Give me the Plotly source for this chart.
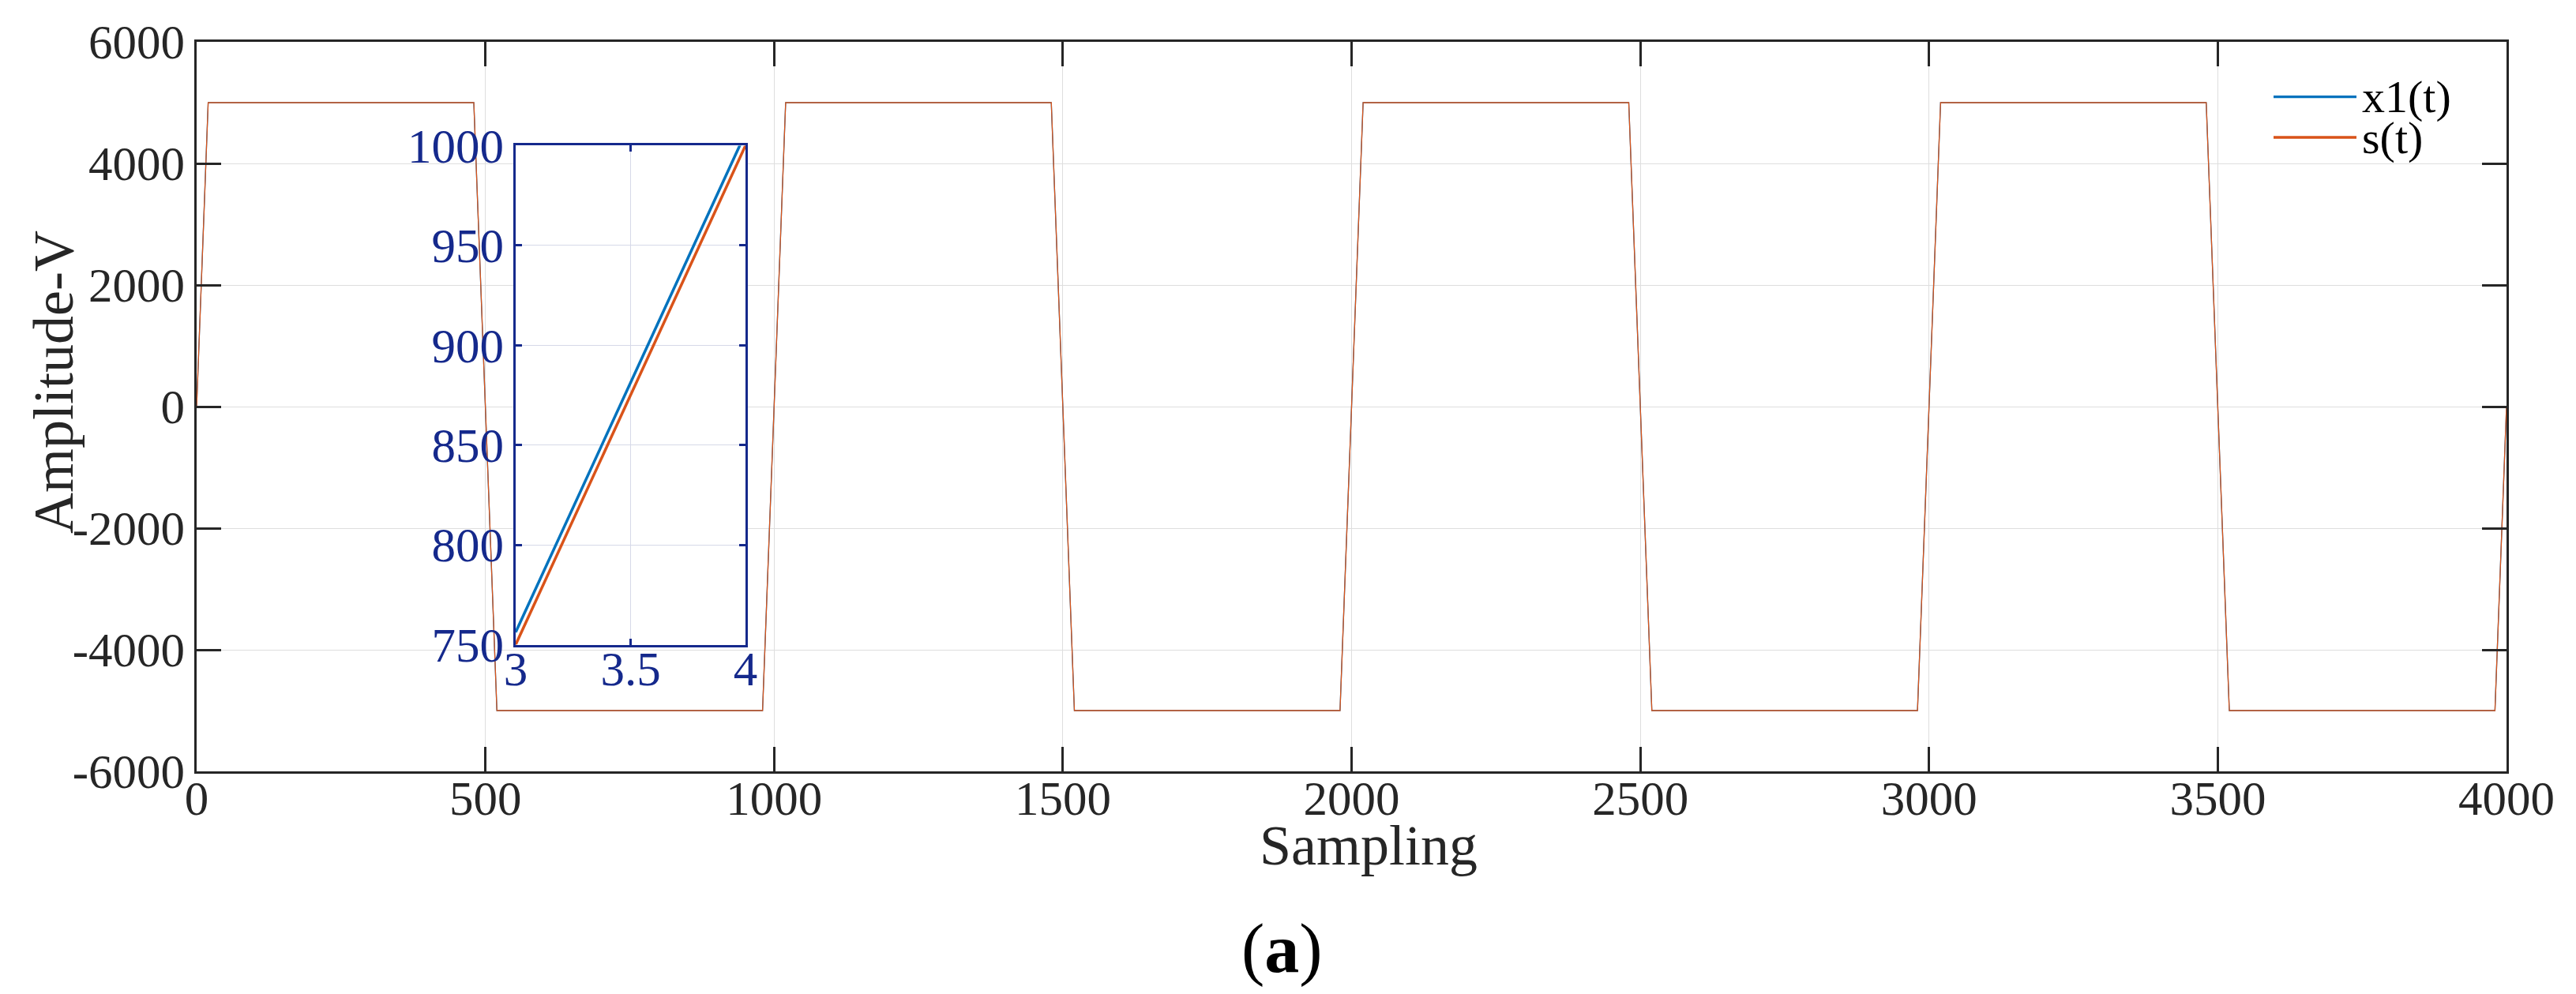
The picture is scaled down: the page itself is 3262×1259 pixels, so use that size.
import plotly.graph_objects as go

# ---------------- data ----------------
# corner points of the sampled trapezoidal signals (main view)
s_t = [0, 20, 480, 520, 980, 1020, 1480, 1520, 1980, 2020, 2480, 2520,
       2980, 3020, 3480, 3520, 3980, 4000]
s_v = [0, 5000, 5000, -5000, -5000, 5000, 5000, -5000, -5000, 5000, 5000,
       -5000, -5000, 5000, 5000, -5000, -5000, 0]
x1_t = [0, 19.975, 479.975, 519.975, 979.975, 1019.975, 1479.975, 1519.975,
        1979.975, 2019.975, 2479.975, 2519.975, 2979.975, 3019.975,
        3479.975, 3519.975, 3979.975, 4000]
x1_v = [6.25, 5000, 5000, -5000, -5000, 5000, 5000, -5000, -5000, 5000, 5000,
        -5000, -5000, 5000, 5000, -5000, -5000, 6.25]

# zoomed inset (samples 3..4)
inset_t = [3, 4]
inset_x1 = [756.25, 1006.25]
inset_s = [750, 1000]

x_ticks = [0, 500, 1000, 1500, 2000, 2500, 3000, 3500, 4000]
x_labels = ["0", "500", "1000", "1500", "2000", "2500", "3000", "3500", "4000"]
y_ticks = [-6000, -4000, -2000, 0, 2000, 4000, 6000]
y_labels = ["-6000", "-4000", "-2000", "0", "2000", "4000", "6000"]
inset_xticks = [3, 3.5, 4]
inset_xlabels = ["3", "3.5", "4"]
inset_yticks = [750, 800, 850, 900, 950, 1000]
inset_ylabels = ["750", "800", "850", "900", "950", "1000"]

legend_names = ["x1(t)", "s(t)"]

# ---------------- style ----------------
BLUE = "#0072BD"
ORANGE = "#D95319"
DARK = "#262626"
INSET = "#15298c"
FONT = "Liberation Serif"

W, H = 3262, 1259
L, R, T, B = 241, 96, 45, 290
PW, PH = W - L - R, H - T - B


def px(x):
    return (x - L) / PW


def py(y):
    return (H - B - y) / PH


fig = go.Figure()
fig.add_trace(go.Scatter(x=x1_t, y=x1_v, mode="lines", name=legend_names[0],
                         line=dict(color=BLUE, width=1.3), showlegend=False,
                         xaxis="x", yaxis="y"))
fig.add_trace(go.Scatter(x=s_t, y=s_v, mode="lines", name=legend_names[1],
                         line=dict(color=ORANGE, width=1.3), showlegend=False,
                         xaxis="x", yaxis="y"))
fig.add_trace(go.Scatter(x=inset_t, y=inset_x1, mode="lines", name=legend_names[0],
                         line=dict(color=BLUE, width=3.5), showlegend=False,
                         xaxis="x2", yaxis="y2"))
fig.add_trace(go.Scatter(x=inset_t, y=inset_s, mode="lines", name=legend_names[1],
                         line=dict(color=ORANGE, width=3.5), showlegend=False,
                         xaxis="x2", yaxis="y2"))

main_axis = dict(showline=True, linecolor=DARK, linewidth=2.5, mirror="ticks",
                 ticks="inside", ticklen=31, tickwidth=3, tickcolor=DARK,
                 showgrid=True, gridcolor="#dedede", gridwidth=1.2,
                 zeroline=False, tickfont=dict(family=FONT, size=61, color=DARK))
inset_axis = dict(showline=True, linecolor=INSET, linewidth=2.5, mirror="ticks",
                  ticks="inside", ticklen=8, tickwidth=2.5, tickcolor=INSET,
                  showgrid=True, gridcolor="#d6d9e8", gridwidth=1.2,
                  zeroline=False, tickfont=dict(family=FONT, size=61, color=INSET))

x0_in, x1_in = px(645), px(936)
y0_in, y1_in = py(808.5), py(176.4)

fig.update_layout(
    width=W, height=H,
    margin=dict(l=L, r=R, t=T, b=B, pad=0),
    paper_bgcolor="white", plot_bgcolor="white",
    showlegend=False,
    xaxis=dict(range=[0, 4000], tickvals=x_ticks, ticktext=x_labels, domain=[0, 1],
               ticklabelstandoff=-21, **main_axis),
    yaxis=dict(range=[-6000, 6000], tickvals=y_ticks, ticktext=y_labels, domain=[0, 1],
               **main_axis),
    xaxis2=dict(range=[3, 4], tickvals=inset_xticks, ticktext=inset_xlabels,
                domain=[x0_in, x1_in], anchor="y2", ticklabelstandoff=-24, **inset_axis),
    yaxis2=dict(range=[750, 1000], tickvals=inset_yticks, ticktext=inset_ylabels,
                domain=[y0_in, y1_in], anchor="x2", **inset_axis),
)

# legend drawn manually (long sample lines, no box)
leg_y = [114.7, 166]
leg_colors = [BLUE, ORANGE]
for name, yy, col in zip(legend_names, leg_y, leg_colors):
    fig.add_shape(type="line", xref="paper", yref="paper",
                  x0=px(2871), x1=px(2976), y0=py(yy), y1=py(yy),
                  line=dict(color=col, width=3.3))
    fig.add_annotation(xref="paper", yref="paper", x=px(2981), y=py(yy),
                       text=name, showarrow=False, xanchor="left", yanchor="middle",
                       font=dict(family=FONT, size=58, color="black"))

fig.add_annotation(xref="paper", yref="paper", x=px(60), y=py(476),
                   text="Amplitude-V", textangle=-90, showarrow=False,
                   xanchor="center", yanchor="middle",
                   font=dict(family=FONT, size=72, color=DARK))
fig.add_annotation(xref="paper", yref="paper", x=px(1725), y=py(1063),
                   text="Sampling", showarrow=False,
                   xanchor="center", yanchor="middle",
                   font=dict(family=FONT, size=72, color=DARK))
fig.add_annotation(xref="paper", yref="paper", x=px(1615), y=py(1193),
                   text="(<b>a</b>)", showarrow=False,
                   xanchor="center", yanchor="middle",
                   font=dict(family=FONT, size=88, color="black"))

fig.write_html("out.html")
